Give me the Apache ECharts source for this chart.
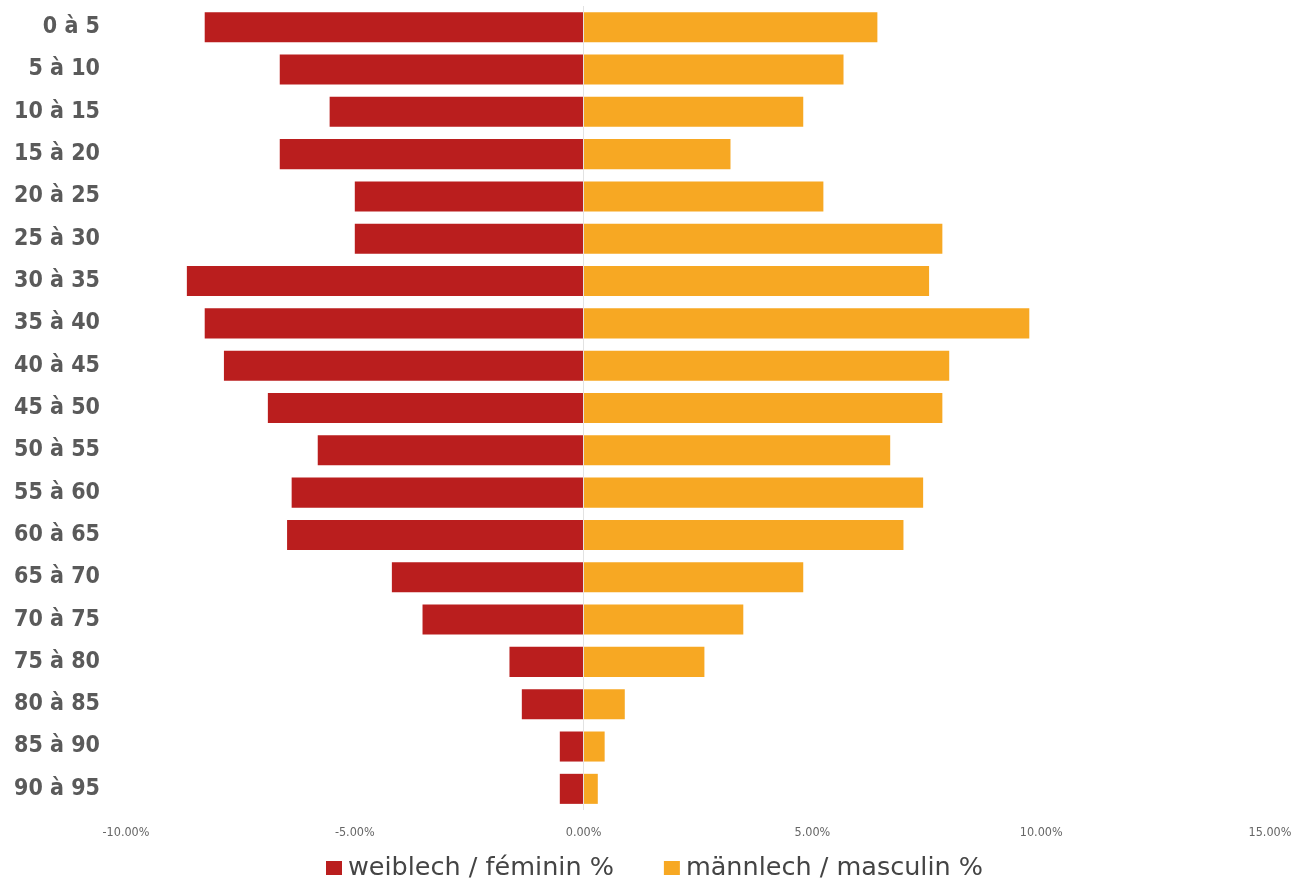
<!DOCTYPE html>
<html>
<head>
<meta charset="utf-8">
<script src="https://cdn.jsdelivr.net/npm/echarts@6/dist/echarts.min.js"></script>
<style>html,body{margin:0;padding:0;background:#fff}#c{width:1309px;height:886px}</style>
</head>
<body>
<div id="c"></div>
<script>
const categories = ["0 à 5","5 à 10","10 à 15","15 à 20","20 à 25","25 à 30","30 à 35","35 à 40","40 à 45","45 à 50","50 à 55","55 à 60","60 à 65","65 à 70","70 à 75","75 à 80","80 à 85","85 à 90","90 à 95"];
const female = [-8.28,-6.64,-5.55,-6.64,-5.00,-5.00,-8.67,-8.28,-7.86,-6.90,-5.81,-6.38,-6.48,-4.19,-3.52,-1.62,-1.35,-0.52,-0.52];
const male = [6.42,5.68,4.80,3.21,5.24,7.84,7.55,9.74,7.99,7.84,6.70,7.42,6.99,4.80,3.49,2.64,0.90,0.46,0.31];
const seriesNames = ["weiblech / féminin %","männlech / masculin %"];

const chart = echarts.init(document.getElementById('c'));
chart.setOption({
  animation: false,
  backgroundColor: '#fff',
  grid: {left: 126, right: 39, top: 6, bottom: 76, containLabel: false},
  legend: {
    bottom: 0, left: 'center',
    icon: 'rect', itemWidth: 16, itemHeight: 14, itemGap: 50,
    textStyle: {fontSize: 25.5, color: '#444', fontFamily: "'DejaVu Sans', sans-serif", fontWeight: 'normal', padding: [0, 0, 0, 1]},
    data: seriesNames
  },
  xAxis: {
    type: 'value', min: -10, max: 15, interval: 5,
    axisLine: {show: false}, axisTick: {show: false}, splitLine: {show: false},
    axisLabel: {
      formatter: v => v.toFixed(2) + '%',
      fontSize: 12.5, color: '#666', margin: 16,
      fontFamily: "'Liberation Sans Narrow', 'DejaVu Sans Condensed', sans-serif"
    }
  },
  yAxis: {
    type: 'category', data: categories, inverse: true,
    axisLine: {show: false, onZero: false}, axisTick: {show: false},
    axisLabel: {
      fontSize: 23, fontWeight: 'bold', color: '#5a5a5a', margin: 26,
      fontFamily: "'Liberation Sans Narrow', 'DejaVu Sans Condensed', sans-serif"
    }
  },
  series: [
    {
      name: seriesNames[0], type: 'bar', stack: 'pop', data: female, barWidth: '71%',
      itemStyle: {color: '#BA1E1E'},
      markLine: {
        silent: true, symbol: 'none', label: {show: false},
        lineStyle: {color: '#e2e2e2', width: 1, type: 'solid'},
        data: [{xAxis: 0}]
      }
    },
    {
      name: seriesNames[1], type: 'bar', stack: 'pop', data: male, barWidth: '71%',
      itemStyle: {color: '#F7A823'}
    }
  ]
});
</script>
</body>
</html>
